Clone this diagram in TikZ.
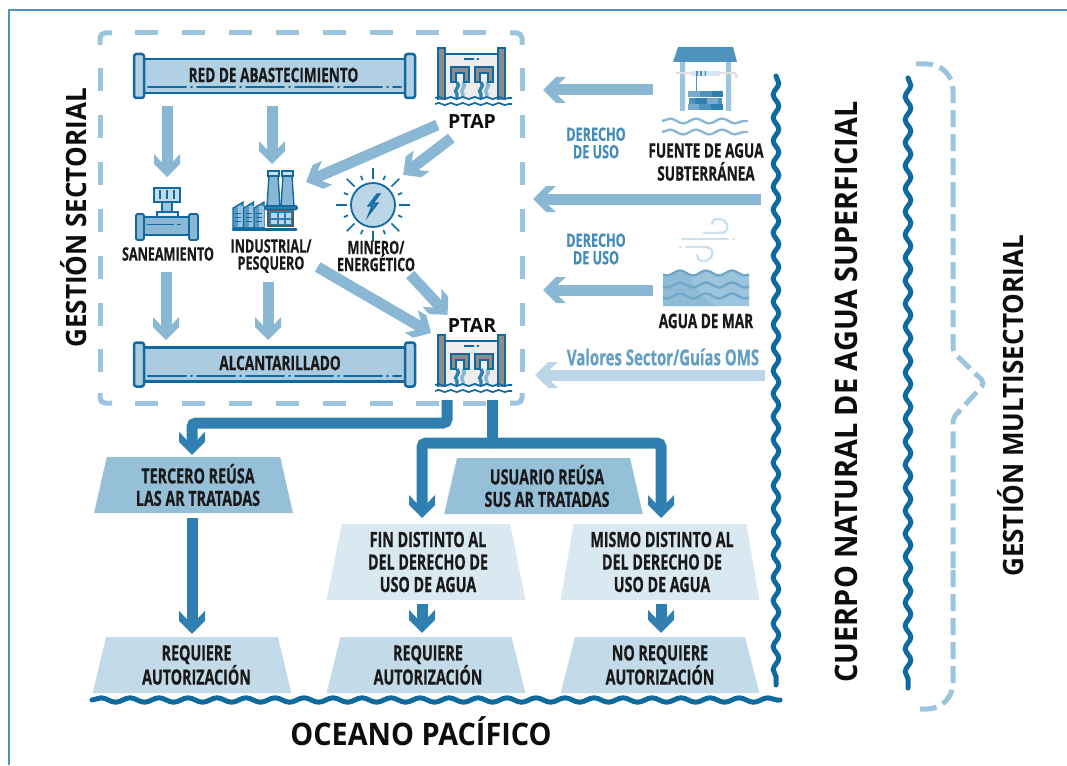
\documentclass[tikz,border=0pt]{standalone}
\usepackage{fontspec}
\usetikzlibrary{arrows.meta,shapes.geometric,decorations.pathmorphing,calc}
\setmainfont{Open Sans}
\newfontfamily\angostaf{Open Sans}[FakeStretch=0.68, BoldFeatures={FakeBold=0.5}]
\newfontfamily\mediaf{Open Sans}[FakeStretch=0.93]
\newcommand{\angosta}{\angostaf\bfseries}
\newcommand{\media}{\mediaf\bfseries}
\newcommand{\corre}[1]{\hspace*{#1pt}}
\definecolor{azul}{HTML}{0F6AA0}
\definecolor{azulmedio}{HTML}{2F80B0}
\definecolor{celeste}{HTML}{8AB8D4}
\definecolor{claro}{HTML}{BCD6E7}
\definecolor{punteado}{HTML}{9CC4DC}
\pgfdeclarearrow{
    name=Punta,
    setup code={
        \pgfarrowssettipend{0pt}
        \pgfarrowssetlineend{-14pt}
        \pgfarrowssetvisualbackend{-14pt}
        \pgfarrowssetbackend{-23pt}
    },
    drawing code={
        \pgfpathmoveto{\pgfqpoint{0pt}{0pt}}
        \pgfpathlineto{\pgfqpoint{-13pt}{13pt}}
        \pgfpathlineto{\pgfqpoint{-23pt}{13pt}}
        \pgfpathlineto{\pgfqpoint{-15pt}{5.5pt}}
        \pgfpathlineto{\pgfqpoint{-15pt}{-5.5pt}}
        \pgfpathlineto{\pgfqpoint{-23pt}{-13pt}}
        \pgfpathlineto{\pgfqpoint{-13pt}{-13pt}}
        \pgfpathclose
        \pgfusepathqfill
    },
}
\tikzset{
    rotulo/.style={font=\angosta\fontsize{18.5}{18}\selectfont, align=center, text=black!90, inner sep=0pt},
    derecho/.style={font=\angosta\fontsize{18.5}{17.5}\selectfont, align=center, text=azulmedio!90, inner sep=0pt},
    titulo/.style={font=\media\fontsize{28}{32}\selectfont, text=black!95, inner sep=0pt},
    sigla/.style={font=\bfseries\fontsize{19.5}{21}\selectfont, text=black!95, inner sep=0pt},
    caja/.style={trapezium, trapezium stretches=true, minimum width=199, inner sep=0pt,
        font=\angosta\fontsize{21}{22.5}\selectfont, align=center, text=black!90},
    icono/.style={inner sep=0pt, outer sep=0pt},
    zona/.style={draw=punteado, line width=5},
    zonad/.style={zona, dash pattern=on 23 off 23.9},
    llave/.style={draw=punteado, line width=5, dash pattern=on 17 off 7},
    flecha/.style={draw=celeste, line width=11, -Punta},
    flechab/.style={draw=azulmedio, line width=11, rounded corners=4, -Punta},
    ola/.style={decorate, decoration={snake, segment length=23, amplitude=2.8}, draw=azul, line width=5, line cap=round},
    olita/.style={decorate, decoration={snake, segment length=26, amplitude=2.4}, line width=2.4},
    tubo/.pic={
        \draw[azul, line width=2.5, fill=#1] (0,-17) rectangle (261,17);
        \draw[azul, line width=2.5, fill=#1, rounded corners=2.5] (-10,-22) rectangle (0,22);
        \draw[azul, line width=2.5, fill=#1, rounded corners=2.5] (261,-22) rectangle (271,22);
        \draw[azul, line width=2, dash pattern=on 38 off 5 on 1 off 5, line cap=round] (4,11) -- (257,11);
    },
    planta/.pic={
        \fill[black!7] (4,7) rectangle (64,52);
        \draw[azul, line width=2] (4,6) -- (64,6);
        \draw[azul, line width=1.5, dash pattern=on 10 off 3 on 2 off 3] (26,11) -- (44,11);
        \foreach \px in {0,60}{
            \draw[azul, line width=1.8, fill=black!45] (\px,0) rectangle ++(7,54);
        }
        \foreach \px in {13,37}{
            \draw[azulmedio, line width=3.4, decorate, decoration={snake, segment length=11, amplitude=1.4}] (\px+6,34) -- (\px+6,50);
            \draw[celeste, line width=3.4, decorate, decoration={snake, segment length=11, amplitude=1.4}] (\px+12,34) -- (\px+12,50);
            \draw[azul, line width=2.6, fill=black!45] (\px,34) -- (\px,19) -- (\px+18,19) -- (\px+18,34) -- (\px+13,34) -- (\px+13,25) -- (\px+5,25) -- (\px+5,34) -- cycle;
        }
        \fill[white] (-3,52) rectangle (74,60);
        \draw[azul, olita, decoration={segment length=12, amplitude=1.1}, line width=1.7] (-3,50) -- (74,50);
        \draw[azul, olita, decoration={segment length=12, amplitude=1.1}, line width=1.7] (-3,56) -- (74,56);
    },
}
\begin{document}
\begin{tikzpicture}[x=1pt, y=-1pt]
    \useasboundingbox (0,0) rectangle (1067,765);
    \draw[azulmedio!85, line width=2] (1067,10) -- (9,10) -- (9,765);

    % zona sectorial
    \node (sectorial) [icono, minimum width=422, minimum height=370] at (311,218) {};
    \draw[zonad] (135,33) -- (500,33);
    \draw[zonad] (135,403) -- (500,403);
    \draw[zonad] (100,68) -- (100,373);
    \draw[zonad] (522,68) -- (522,373);
    \draw[zona, rounded corners=5] (100,45) -- (100,33) -- (112,33);
    \draw[zona, rounded corners=5] (510,33) -- (522,33) -- (522,45);
    \draw[zona, rounded corners=5] (100,393) -- (100,403) -- (112,403);
    \draw[zona, rounded corners=5] (510,403) -- (522,403) -- (522,393);
    \node (gsectorial) [titulo, rotate=90] at (74,218) {GESTIÓN SECTORIAL};

    % tuberias
    \path (144,76) pic {tubo=claro!80!celeste};
    \node (red) [rotulo, font=\angosta\fontsize{20}{20}\selectfont, minimum width=261, minimum height=34] at (273.5,75) {RED DE ABASTECIMIENTO};
    \path (144,364.5) pic {tubo=claro!65!celeste};
    \node (alcantarillado) [rotulo, font=\angosta\fontsize{20}{20}\selectfont, minimum width=261, minimum height=34] at (280,363) {ALCANTARILLADO};

    % plantas
    \path (438,48) pic {planta};
    \node (iptap) [icono, minimum width=77, minimum height=58] at (473.5,77) {};
    \node (ptap) [sigla] at (472,122) {PTAP};
    \path (438,335) pic {planta};
    \node (iptar) [icono, minimum width=77, minimum height=65] at (473.5,367.5) {};
    \node (ptar) [sigla] at (472,326) {PTAR};

    % valvula
    \node (ivalvula) [icono, minimum width=62, minimum height=52] at (167,214) {};
    \draw[azul, line width=1.8, fill=punteado!60] (154,188) rectangle (180,202);
    \foreach \px in {160,167,174}{
        \draw[azul, line width=1.3] (\px,190) -- (\px,199);
    }
    \draw[azul, line width=1.8, fill=punteado] (162,202) rectangle (172,212);
    \draw[azul, line width=1.8, fill=black!8] (157,212) rectangle (178,218);
    \draw[azul, line width=2, fill=celeste] (143,217) rectangle (190,235);
    \draw[azul, line width=1, dash pattern=on 27 off 3 on 4 off 8] (147,224) -- (186,224);
    \draw[azul, line width=1.8, fill=celeste, rounded corners=1.5] (136,214) rectangle (144,240);
    \draw[azul, line width=1.8, fill=celeste, rounded corners=1.5] (189,214) rectangle (198,240);
    \node (saneamiento) [rotulo] at (168,254) {SANEAMIENTO};

    % fabrica
    \node (ifabrica) [icono, minimum width=65, minimum height=60] at (264.5,201) {};
    \foreach \px in {268,282}{
        \draw[azul, line width=1.4, fill=celeste] (\px+1,176) -- (\px+10,176) -- (\px+12,206) -- (\px-1,206) -- cycle;
        \draw[azul, line width=1.4, fill=punteado!50] (\px,171) rectangle (\px+11,176);
    }
    \foreach \px in {233,243.5,254}{
        \draw[azul, line width=1.2, fill=azulmedio!80] (\px,208) -- (\px+10,202) -- (\px+10,228) -- (\px,228) -- cycle;
        \fill[punteado] (\px+5,206) rectangle (\px+10,227);
        \draw[azul, line width=1] (\px+2,213) -- (\px+8,213) (\px+2,217) -- (\px+8,217) (\px+2,221) -- (\px+8,221);
    }
    \draw[azul, line width=1.6, fill=azulmedio, rounded corners=1] (265,206) rectangle (297,209.5);
    \draw[black!65, line width=1.5, fill=azulmedio] (268,210.5) rectangle (293,226);
    \foreach \px in {271,278.5,285.5}{
        \fill[claro] (\px,213) rectangle ++(5.5,4.5);
        \fill[claro] (\px,219.5) rectangle ++(5.5,4.5);
    }
    \draw[azul, line width=3, line cap=round] (233,229.5) -- (296,229.5);
    \node (industrial) [rotulo] at (271,256) {INDUSTRIAL/\\[-1pt]PESQUERO};

    % energia
    \node (isol) [icono, circle, minimum size=74] at (373,205) {};
    \foreach \ang in {0,45,...,315}{
        \draw[azul, line width=1.7] (373,205) ++(\ang:26) -- ++(\ang:11);
        \draw[azul, line width=1.7] (373,205) ++(\ang+22.5:27) -- ++(\ang+22.5:4.5);
    }
    \draw[azul, line width=1.8, fill=claro] (373,205) circle [radius=22];
    \draw[azul, line width=1.3, fill=azulmedio] (377,194) -- (368,206) -- (372,206) -- (368,216) -- (378,203) -- (373,203) -- (380,194) -- cycle;
    \node (minero) [rotulo] at (376,256) {MINERO/\\[-1pt]ENERGÉTICO};

    % pozo
    \node (ipozo) [icono, minimum width=86, minimum height=90] at (705,90) {};
    \fill[punteado] (680,62) rectangle (685,111) (726,62) rectangle (731,111);
    \fill[azulmedio!85] (678,47) -- (733,47) -- (737,62) -- (673,62) -- cycle;
    \draw[black!12, line width=2.4] (676,73) -- (735,73) -- (737,78);
    \fill[claro!60] (691,71) rectangle (720,76);
    \fill[azulmedio!85] (696,71) rectangle (698,76) (700,71) rectangle (702,76) (704.5,71) rectangle (706,76);
    \draw[azulmedio!85, line width=1.6] (696.5,71) -- (696.5,91);
    \foreach \px/\py/\ancho/\tono in {688/91/12/azulmedio!65, 700/91/12/azulmedio!85, 712/91/11/azulmedio,
            689/98/6/azulmedio!85, 695/98/12/azulmedio, 707/98/11/azulmedio!65, 718/98/4/azulmedio!85,
            688/104/11/azulmedio!65, 699/104/12/azulmedio!85, 711/104/12/azulmedio}{
        \fill[\tono] (\px,\py) rectangle ++(\ancho,6.4);
    }
    \draw[celeste, olita] (662,121) -- (748,121);
    \draw[celeste, olita] (662,132) -- (748,132);
    \node (fuente) [rotulo, font=\angosta\fontsize{20}{23}\selectfont] at (706,162) {FUENTE DE AGUA\\SUBTERRÁNEA};

    % mar
    \draw[claro!75, line width=2.4, line cap=round] (682,239) -- (728,239) (733,239) -- (734,239);
    \draw[claro!75, line width=2.4, line cap=round] (704,233) -- (720,233) .. controls (732,233) and (728,218) .. (718,219) .. controls (714,219) and (712,221) .. (712,224);
    \draw[claro!75, line width=2.4, line cap=round] (680,247) -- (681,247) (686,247) -- (705,247) .. controls (717,247) and (713,262) .. (703,261) .. controls (699,261) and (697,258) .. (697,255);
    \node (imar) [icono, minimum width=86, minimum height=36] at (706,290) {};
    \fill[punteado] (663,306) -- plot[domain=663:749, samples=60] (\x,{273-2.4*cos((\x-680)/26*360)}) -- (749,306) -- cycle;
    \fill[celeste!95!white] (663,306) -- plot[domain=663:692, samples=30] (\x,{273-2.4*cos((\x-680)/26*360)}) .. controls (693,288) and (704,300) .. (718,306) -- cycle;
    \foreach \py in {273,285,296}{
        \draw[celeste!80!azul, line width=2.4] plot[domain=663:749, samples=60] (\x,{\py-2.4*cos((\x-680)/26*360)});
    }
    \node (aguamar) [rotulo, font=\angosta\fontsize{20}{20}\selectfont] at (706,321) {AGUA DE MAR};

    \node (derecho1) [derecho] at (596,143) {DERECHO\\DE USO};
    \node (derecho2) [derecho] at (596,249) {DERECHO\\DE USO};
    \node (valores) [derecho, text=azulmedio!75, font=\angosta\fontsize{22}{22}\selectfont] at (663,357) {Valores Sector/Guías OMS};

    % bordes de agua
    \coordinate (cuerpoa) at (776,76);
    \coordinate (cuerpob) at (776,685);
    \draw[ola] (cuerpoa) -- (cuerpob);
    \coordinate (multia) at (908,78);
    \coordinate (multib) at (908,688);
    \draw[ola] (multia) -- (multib);
    \coordinate (oceanoa) at (92,700);
    \coordinate (oceanob) at (780,700);
    \draw[ola, decoration={segment length=29, amplitude=2.2}] (oceanoa) -- (oceanob);
    \node (oceano) [titulo, font=\media\fontsize{31}{34}\selectfont] at (421,731) {OCEANO PACÍFICO};
    \node (cuerpo) [titulo, rotate=90, font=\media\fontsize{31}{34}\selectfont] at (846,392) {CUERPO NATURAL DE AGUA SUPERFICIAL};
    \node (multisectorial) [titulo, rotate=90] at (1011,406) {GESTIÓN MULTISECTORIAL};
    \draw[llave, rounded corners=26] (916,64) -- (953,64) -- (953,190);
    \draw[llave, rounded corners=5] (953,190) -- (953,352) -- (985,383) -- (953,418) -- (953,570);
    \draw[llave, rounded corners=26] (953,570) -- (953,709) -- (916,709);

    % cajas
    \node (tercero) [caja, fill=celeste!90, minimum height=56, trapezium angle=77] at (193.5,485) {\corre{9}TERCERO REÚSA\\\corre{9}LAS AR TRATADAS};
    \node (usuario) [caja, fill=celeste!90, minimum height=56, trapezium angle=77] at (543.5,486) {\corre{7}USUARIO REÚSA\\\corre{7}SUS AR TRATADAS};
    \node (fin) [caja, fill=claro!55, minimum height=76, trapezium angle=79.5] at (426,562) {\corre{4}FIN DISTINTO AL\\\corre{4}DEL DERECHO DE\\\corre{4}USO DE AGUA};
    \node (mismo) [caja, fill=claro!55, minimum height=76, trapezium angle=79.5] at (660,562) {\corre{4}MISMO DISTINTO AL\\\corre{4}DEL DERECHO DE\\\corre{4}USO DE AGUA};
    \node (req1) [caja, fill=claro!90, minimum height=56, trapezium angle=77] at (192,665) {\corre{9}REQUIERE\\\corre{9}AUTORIZACIÓN};
    \node (req2) [caja, fill=claro!90, minimum height=56, trapezium angle=77] at (426,665) {\corre{4}REQUIERE\\\corre{4}AUTORIZACIÓN};
    \node (req3) [caja, fill=claro!90, minimum height=56, trapezium angle=77] at (660,665) {NO REQUIERE\\AUTORIZACIÓN};

    % flechas claras
    \draw[flecha, shorten <=13, shorten >=11] (166,93 -| ivalvula) -- (ivalvula.north);
    \draw[flecha, shorten <=13] (272,93) -- (272,164);
    \draw[flecha] ([shift={(-10.5,3)}]ptap.west) -- ([shift={(9,-19)}]ifabrica.east);
    \draw[flecha] ([shift={(3.5,16)}]ptap.west) -- ([shift={(4,-4)}]isol.north east);
    \draw[flecha, shorten >=7] (166,272) -- (166,347);
    \draw[flecha, shorten >=7] (268,282) -- (268,347);
    \draw[flecha] ([shift={(6,-6)}]industrial.south east) -- ([shift={(-16.5,7)}]ptar.west);
    \draw[flecha] ([shift={(-5,3)}]minero.south east) -- ([shift={(0,-4)}]ptar.north west);
    \draw[flecha, shorten <=9, shorten >=31] (ipozo.west) -- (iptap.east |- ipozo.west);
    \coordinate (salida1) at (776,199);
    \draw[flecha, shorten <=15, shorten >=11] (salida1) -- (sectorial.east |- salida1);
    \draw[flecha, shorten <=10, shorten >=31] (imar.west) -- (iptap.east |- imar.west);
    \coordinate (salida2) at (776,375);
    \draw[flecha, draw=claro, shorten <=11, shorten >=13] (salida2) -- (sectorial.east |- salida2);

    % flechas oscuras
    \draw[flechab, shorten >=2] (iptar.south -| 447,0) -- (447,423) -- (192,423) -- (tercero.north -| 192,0);
    \coordinate (cruce) at (492,443);
    \draw[flechab, -] (iptar.south -| cruce) -- (cruce);
    \draw[flechab] (cruce) -- (422,443) -- (422,518);
    \draw[flechab] (cruce) -- (661,443) -- (661,518);
    \draw[flechab, shorten <=5, shorten >=3] (tercero.south -| 192,0) -- (req1.north -| 192,0);
    \draw[flechab, shorten <=4, shorten >=4] (fin.south -| 422,0) -- (req2.north -| 422,0);
    \draw[flechab, shorten <=4, shorten >=4] (mismo.south -| 661,0) -- (req3.north -| 661,0);
\end{tikzpicture}
\end{document}
